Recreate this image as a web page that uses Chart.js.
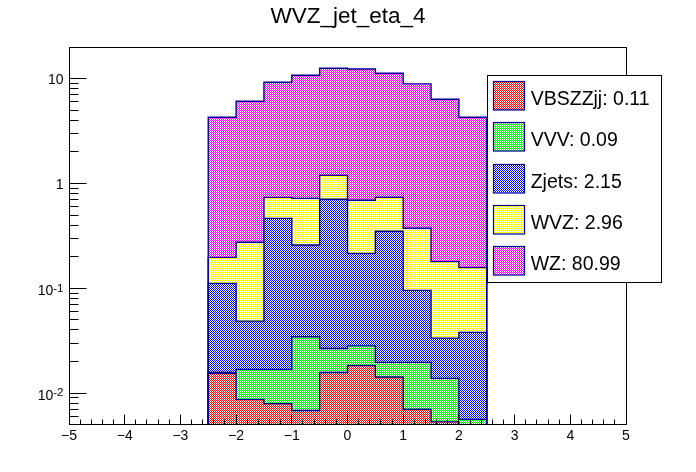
<!DOCTYPE html>
<html>
<head>
<meta charset="UTF-8" />
<title>WVZ_jet_eta_4</title>
<script src="https://cdn.jsdelivr.net/npm/chart.js"></script>
<style>
  body { margin: 0; background: #fff; }
  canvas { display: block; }
</style>
</head>
<body>
<canvas id="histChart" width="696" height="472"></canvas>
<script>
// bins: low edges, all 0.5 wide
const binLow = [-2.5, -2, -1.5, -1, -0.5, 0, 0.5, 1, 1.5, 2];
const binWidth = 0.5;

// per-sample yields per bin (stacked bottom -> top)
const vbszzjj = [0.0154, 0.0087, 0.0079, 0.0068, 0.0157, 0.0183, 0.0142, 0.0070, 0.0053, 0.0049];
const vvv     = [0.0003, 0.0081, 0.0089, 0.0276, 0.0109, 0.0099, 0.0054, 0.0126, 0.0085, 0.0007];
const zjets   = [0.0956, 0.0318, 0.448, 0.224, 0.680, 0.187, 0.330, 0.0758, 0.0196, 0.0323];
const wvz     = [0.086, 0.226, 0.273, 0.463, 0.491, 0.476, 0.389, 0.278, 0.146, 0.120];
const wz      = [4.09, 5.83, 8.53, 10.08, 11.40, 11.71, 10.56, 8.56, 6.19, 4.13];

const legendLabels = ['VBSZZjj: 0.11', 'VVV: 0.09', 'Zjets: 2.15', 'WVZ: 2.96', 'WZ: 80.99'];
const fillColors = ['#ff0000', '#00ff00', '#0000ff', '#ffff00', '#ff00ff'];

const xTicks = [-5, -4, -3, -2, -1, 0, 1, 2, 3, 4, 5];
const yTicks = [0.01, 0.1, 1, 10];
const yTickLabels = [['10', '-2'], ['10', '-1'], ['1', ''], ['10', '']];

const FONT = '"Liberation Sans", Arial, Helvetica, sans-serif';
const LINE = '#000099';
const FLOOR = 1e-4; // below the axis minimum, used to close the outline

function checker(color) {
  const c = document.createElement('canvas');
  c.width = 2; c.height = 2;
  const g = c.getContext('2d');
  g.fillStyle = '#ffffff';
  g.fillRect(0, 0, 2, 2);
  g.fillStyle = color;
  g.fillRect(0, 0, 1, 1);
  g.fillRect(1, 1, 1, 1);
  return g.createPattern(c, 'repeat');
}

// cumulative sums give the top of each stacked layer
const samples = [vbszzjj, vvv, zjets, wvz, wz];
const cumulative = [];
let running = binLow.map(() => 0);
samples.forEach(s => {
  running = running.map((v, i) => v + s[i]);
  cumulative.push(running);
});

function stepPoints(vals) {
  const pts = [{ x: binLow[0], y: FLOOR }];
  vals.forEach((v, i) => pts.push({ x: binLow[i], y: v }));
  const last = binLow[binLow.length - 1] + binWidth;
  pts.push({ x: last, y: vals[vals.length - 1] });
  pts.push({ x: last, y: FLOOR });
  return pts;
}

const patterns = fillColors.map(checker);

const datasets = cumulative.map((vals, i) => ({
  label: legendLabels[i],
  data: stepPoints(vals),
  stepped: true,
  fill: 'start',
  backgroundColor: patterns[i],
  borderColor: LINE,
  borderWidth: 1.4,
  pointRadius: 0
}));

const snap = v => Math.floor(v) + 0.5;

const rootFrame = {
  id: 'rootFrame',
  afterDraw(chart) {
    const { ctx, chartArea: a, scales: { x, y } } = chart;
    ctx.save();

    // title
    ctx.fillStyle = '#000';
    ctx.font = '22.5px ' + FONT;
    ctx.textAlign = 'center';
    ctx.textBaseline = 'alphabetic';
    ctx.fillText('WVZ_jet_eta_4', 348, 22.5);

    // frame
    ctx.strokeStyle = '#000';
    ctx.lineWidth = 1;
    const L = snap(a.left), R = snap(a.right), T = snap(a.top), B = snap(a.bottom);
    ctx.strokeRect(L, T, R - L, B - T);

    // x ticks (major every 1, minor every 0.2), drawn inward
    ctx.beginPath();
    for (let k = 0; k <= 50; k++) {
      const px = snap(x.getPixelForValue(-5 + k * 0.2));
      const len = k % 5 === 0 ? 10 : 5;
      ctx.moveTo(px, B); ctx.lineTo(px, B - len);
    }
    // y ticks (log decades + 2..9)
    for (let d = -3; d <= 1; d++) {
      for (let m = 1; m <= 9; m++) {
        const v = m * Math.pow(10, d);
        if (v < y.min || v > y.max) continue;
        const py = snap(y.getPixelForValue(v));
        const len = m === 1 ? 17 : 9;
        ctx.moveTo(L, py); ctx.lineTo(L + len, py);
      }
    }
    ctx.stroke();

    // x labels
    ctx.font = '14px ' + FONT;
    ctx.textAlign = 'center';
    xTicks.forEach(v => {
      const txt = String(v).replace('-', '\u2212');
      ctx.fillText(txt, x.getPixelForValue(v), 440);
    });

    // y labels with exponent
    ctx.textAlign = 'right';
    yTicks.forEach((v, i) => {
      const py = y.getPixelForValue(v);
      const [base, sup] = yTickLabels[i];
      const right = 63.5;
      if (sup) {
        ctx.font = '11.5px ' + FONT;
        ctx.fillText(sup, right, py + 3.4);
        const w = ctx.measureText(sup).width;
        ctx.font = '14px ' + FONT;
        ctx.fillText(base, right - w, py + 6.7);
      } else {
        ctx.font = '14px ' + FONT;
        ctx.fillText(base, right, py + 5.6);
      }
    });

    // legend box
    const bx = 487.5, by = 75.5, bw = 174, bh = 207;
    ctx.fillStyle = '#fff';
    ctx.fillRect(bx, by, bw, bh);
    ctx.strokeStyle = '#000';
    ctx.strokeRect(bx, by, bw, bh);
    ctx.font = '19.5px ' + FONT;
    ctx.textAlign = 'left';
    legendLabels.forEach((lab, i) => {
      const sy = 81.5 + i * 41.3;
      ctx.fillStyle = patterns[i];
      ctx.fillRect(493.5, sy, 31, 28.5);
      ctx.strokeStyle = LINE;
      ctx.lineWidth = 1.2;
      ctx.strokeRect(493.5, snap(sy), 31, 28.5);
      ctx.fillStyle = '#000';
      ctx.fillText(lab, 530.7, sy + 23.4);
    });

    ctx.restore();
  }
};

new Chart(document.getElementById('histChart'), {
  type: 'line',
  data: { datasets },
  options: {
    responsive: false,
    animation: false,
    events: [],
    layout: { padding: { left: 69, right: 70, top: 47, bottom: 48 } },
    plugins: {
      legend: { display: false },
      tooltip: { enabled: false },
      title: { display: false }
    },
    scales: {
      x: { type: 'linear', display: false, min: -5, max: 5 },
      y: { type: 'logarithmic', display: false, min: 0.00506, max: 20.1 }
    }
  },
  plugins: [rootFrame]
});
</script>
</body>
</html>
